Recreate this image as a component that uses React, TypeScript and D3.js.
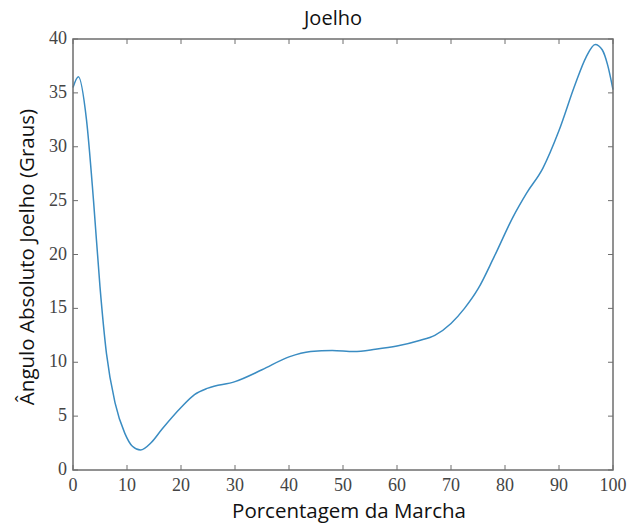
import { useRef, useEffect } from 'react';
import * as d3 from 'd3';

// gait cycle percentage and knee angle
const percent = [
  0, 1, 2.5, 3.8, 5, 6.2, 7.8, 9.6, 11, 12.5, 14.5, 16.5, 20, 22.5, 25, 30, 35, 40, 44, 48,
  52, 56, 60, 64, 67, 70, 72.5, 75, 78, 81.5, 84, 87, 90, 93, 95, 96.7, 98, 99, 100,
];
const kneeAngle = [
  35.5, 36.5, 32.5, 25.0, 17.0, 10.8, 6.2, 3.4, 2.2, 1.85, 2.55, 3.8, 5.8, 7.0, 7.6, 8.2, 9.3,
  10.5, 11.0, 11.1, 11.0, 11.2, 11.5, 12.0, 12.5, 13.6, 15.0, 16.8, 19.8, 23.5, 25.7, 28.0,
  31.5, 35.8, 38.3, 39.5, 39.0, 37.6, 35.3,
];
const xTicks = [0, 10, 20, 30, 40, 50, 60, 70, 80, 90, 100];
const yTicks = [0, 5, 10, 15, 20, 25, 30, 35, 40];

const title = 'Joelho';
const xLabel = 'Porcentagem da Marcha';
const yLabel = 'Ângulo Absoluto Joelho (Graus)';

export default function App() {
  const svgRef = useRef<SVGSVGElement>(null);

  useEffect(() => {
    if (!svgRef.current) return;
    const svg = d3.select(svgRef.current);
    svg.selectAll('*').remove();

    const left = 73;
    const right = 613;
    const top = 39;
    const bottom = 470;

    const x = d3.scaleLinear().domain([0, 100]).range([left, right]);
    const y = d3.scaleLinear().domain([0, 40]).range([bottom, top]);

    const axisColor = '#6e6e6e';
    const tickFont = '"Liberation Serif", "DejaVu Serif", serif';
    const labelFont = '"Open Sans", "Noto Sans", sans-serif';

    svg.append('rect').attr('width', 628).attr('height', 526).attr('fill', '#fff');

    // line
    const points = percent.map((p, i) => [p, kneeAngle[i]] as [number, number]);
    svg
      .append('path')
      .datum(points)
      .attr('fill', 'none')
      .attr('stroke', '#3a8cc2')
      .attr('stroke-width', 1.5)
      .attr('d', d3.line<[number, number]>().x((d) => x(d[0])).y((d) => y(d[1])).curve(d3.curveMonotoneX));

    // box
    svg
      .append('rect')
      .attr('x', left)
      .attr('y', top)
      .attr('width', right - left)
      .attr('height', bottom - top)
      .attr('fill', 'none')
      .attr('stroke', axisColor)
      .attr('stroke-width', 1.5);

    // inward ticks on all sides
    const tickLen = 5;
    xTicks.forEach((t) => {
      svg.append('line').attr('x1', x(t)).attr('x2', x(t)).attr('y1', bottom).attr('y2', bottom - tickLen).attr('stroke', axisColor);
      svg.append('line').attr('x1', x(t)).attr('x2', x(t)).attr('y1', top).attr('y2', top + tickLen).attr('stroke', axisColor);
      svg
        .append('text')
        .attr('x', x(t))
        .attr('y', bottom + 21)
        .attr('text-anchor', 'middle')
        .attr('font-family', tickFont)
        .attr('font-size', '18px')
        .attr('fill', '#444')
        .text(t);
    });
    yTicks.forEach((t) => {
      svg.append('line').attr('x1', left).attr('x2', left + tickLen).attr('y1', y(t)).attr('y2', y(t)).attr('stroke', axisColor);
      svg.append('line').attr('x1', right).attr('x2', right - tickLen).attr('y1', y(t)).attr('y2', y(t)).attr('stroke', axisColor);
      svg
        .append('text')
        .attr('x', left - 6)
        .attr('y', y(t) + 5)
        .attr('text-anchor', 'end')
        .attr('font-family', tickFont)
        .attr('font-size', '18px')
        .attr('fill', '#444')
        .text(t);
    });

    // title and labels
    svg
      .append('text')
      .attr('x', 333)
      .attr('y', 25)
      .attr('text-anchor', 'middle')
      .attr('font-family', labelFont)
      .attr('font-size', '20px')
      .attr('fill', '#111')
      .text(title);

    svg
      .append('text')
      .attr('x', 349)
      .attr('y', 518)
      .attr('text-anchor', 'middle')
      .attr('font-family', labelFont)
      .attr('font-size', '20.5px')
      .attr('fill', '#111')
      .text(xLabel);

    svg
      .append('text')
      .attr('transform', 'translate(34,257) rotate(-90)')
      .attr('text-anchor', 'middle')
      .attr('font-family', labelFont)
      .attr('font-size', '20.5px')
      .attr('fill', '#111')
      .text(yLabel);
  }, []);

  return (
    <div style={{ position: 'absolute', left: 0, top: 0 }}>
      <svg ref={svgRef} width={628} height={526} style={{ display: 'block' }} />
    </div>
  );
}
